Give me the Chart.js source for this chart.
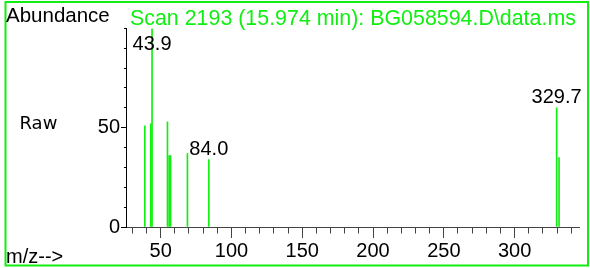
<!DOCTYPE html>
<html>
<head>
<meta charset="utf-8">
<script src="https://cdn.jsdelivr.net/npm/chart.js@4.4.1/dist/chart.umd.min.js"></script>
<style>
  html, body { margin: 0; padding: 0; background: #fff; }
  canvas { display: block; }
</style>
</head>
<body>
<canvas id="spectrum" width="590" height="268"></canvas>
<script>
/* =========================
   DATA
========================= */
const mzValues  = [38.8, 43.0, 43.9, 54.8, 56.0, 57.0, 68.9, 84.0, 329.7, 331.4];
const abundance = [51, 52, 100, 53, 36, 36, 37, 34, 60, 35];
const peakLabels = [43.9, 84.0, 329.7];
const xTickLabels = [50, 100, 150, 200, 250, 300];
const yTickLabels = [0, 50];
const titleText = "Scan 2193 (15.974 min): BG058594.D\\data.ms";

/* =========================
   STYLE
========================= */
const green = "#11ee11";
const sans = "'Liberation Sans', Arial, sans-serif";

/* =========================
   TEXT + FRAME PLUGIN
========================= */
const decorations = {
    id: "decorations",
    afterDraw(chart) {
        const ctx = chart.ctx;
        const xs = chart.scales.x;
        const ys = chart.scales.y;
        const area = chart.chartArea;

        ctx.save();

        // frame
        ctx.strokeStyle = green;
        ctx.lineWidth = 2;
        ctx.strokeRect(5.5, 2, 582.5, 263.5);

        ctx.textAlign = "left";
        ctx.textBaseline = "alphabetic";

        ctx.fillStyle = "#000";
        ctx.font = "20.5px " + sans;
        ctx.fillText("Abundance", 6, 22);

        ctx.fillStyle = green;
        ctx.font = "21.4px " + sans;
        ctx.fillText(titleText, 130, 25);

        ctx.fillStyle = "#000";
        ctx.font = "18px 'DejaVu Sans', sans-serif";
        ctx.fillText("Raw", 19.5, 128.5);

        ctx.font = "20px " + sans;
        ctx.fillText("m/z-->", 6, 263);

        // peak labels
        ctx.textAlign = "center";
        peakLabels.forEach(mz => {
            const i = mzValues.indexOf(mz);
            const px = xs.getPixelForValue(mz);
            let py = ys.getPixelForValue(abundance[i]) - 4.5;
            py = Math.max(py, area.top + 22);
            ctx.fillText(mz.toFixed(1), px, py);
        });

        ctx.restore();
    }
};

/* =========================
   CHART
========================= */
new Chart(document.getElementById("spectrum"), {
    type: "bar",
    data: {
        datasets: [{
            data: mzValues.map((x, i) => ({ x: x, y: abundance[i] })),
            backgroundColor: green,
            borderWidth: 0,
            barThickness: 1,
            grouped: false
        }]
    },
    options: {
        responsive: false,
        animation: false,
        events: [],
        layout: { padding: { top: 28.4, right: 10.7, left: 0, bottom: 0 } },
        plugins: {
            legend: { display: false },
            tooltip: { enabled: false }
        },
        scales: {
            x: {
                type: "linear",
                min: 25.5,
                max: 345.7,
                offset: false,
                afterFit: s => { s.height = 41; },
                border: { color: "#444", width: 1 },
                grid: {
                    offset: false,
                    drawOnChartArea: false,
                    tickLength: 11,
                    tickColor: "#444",
                    tickBorderDash: c => (c.tick && xTickLabels.includes(c.tick.value)) ? [] : [5.5, 100]
                },
                ticks: {
                    stepSize: 10,
                    includeBounds: false,
                    autoSkip: false,
                    maxRotation: 0,
                    padding: 1,
                    color: "#000",
                    font: { family: sans, size: 20 },
                    callback: v => xTickLabels.includes(v) ? String(v) : ""
                }
            },
            y: {
                min: 0,
                max: 100,
                afterFit: s => { s.width = 126; },
                border: { color: "#000", width: 1 },
                grid: {
                    drawOnChartArea: false,
                    tickLength: 5,
                    tickColor: "#000",
                    tickBorderDash: c => (c.tick && yTickLabels.includes(c.tick.value)) ? [] : [0, 3, 2, 100]
                },
                ticks: {
                    stepSize: 10,
                    autoSkip: false,
                    padding: 1,
                    color: "#000",
                    font: { family: sans, size: 20 },
                    callback: v => yTickLabels.includes(v) ? String(v) : ""
                }
            }
        }
    },
    plugins: [decorations]
});
</script>
</body>
</html>
